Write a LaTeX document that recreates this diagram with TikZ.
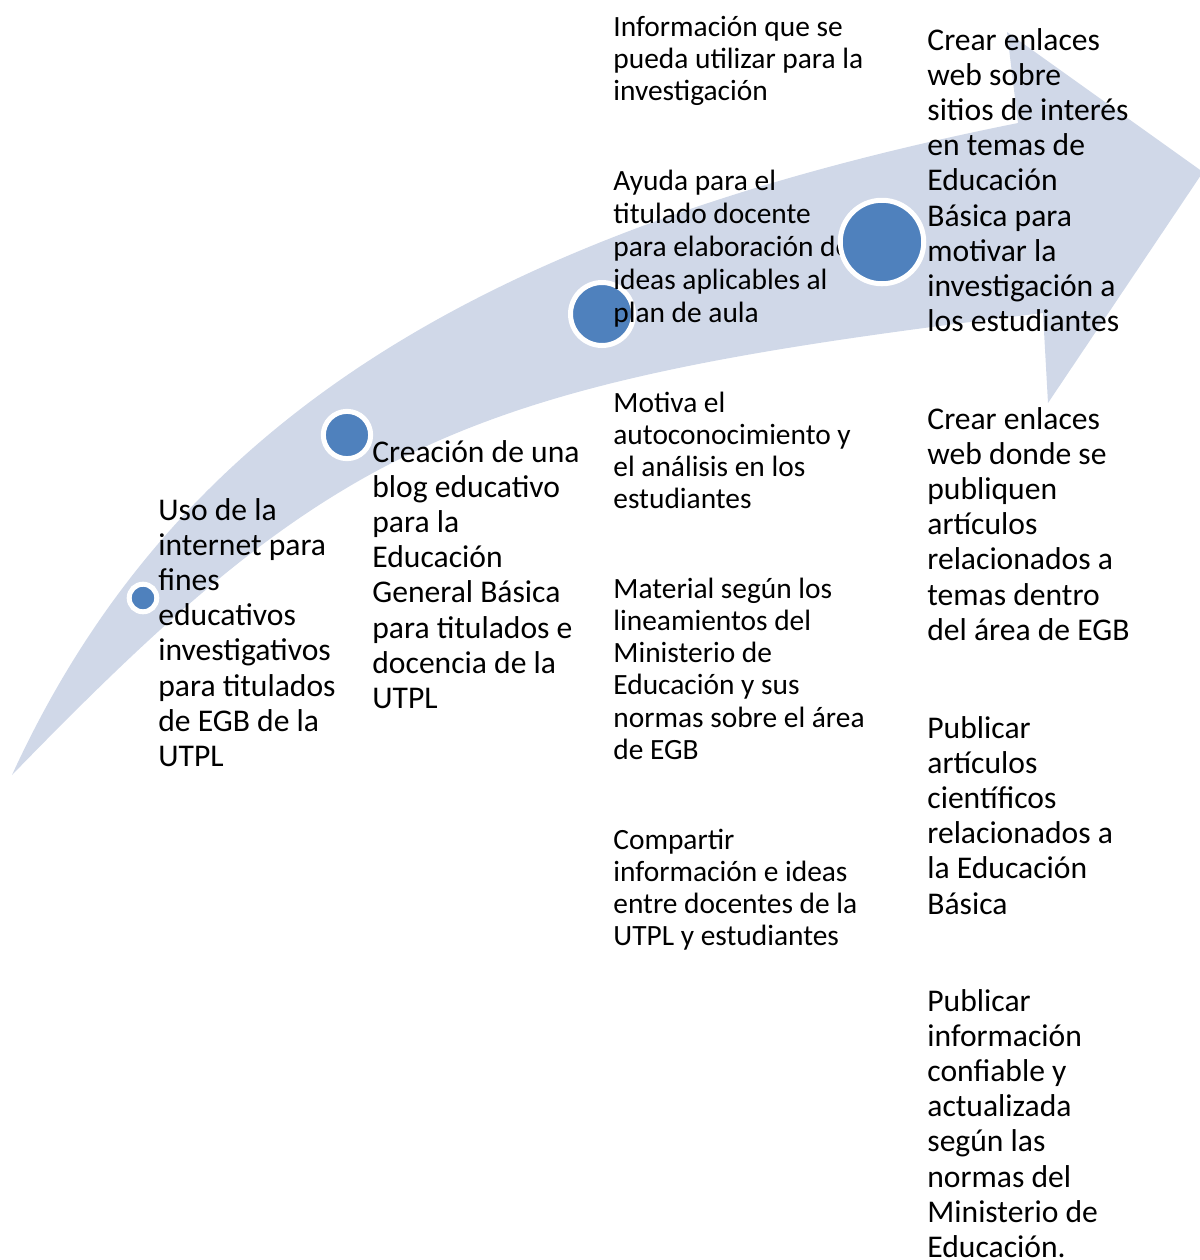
\documentclass[tikz,border=0pt]{standalone}
\usepackage{fontspec}
\setmainfont{Carlito}
\definecolor{bandcol}{HTML}{D0D8E8}
\definecolor{dotblue}{HTML}{4F81BD}
\newcommand\bigtxt{\fontsize{15.8pt}{17.6pt}\selectfont}
\newcommand\smtxt{\fontsize{14.7pt}{16.15pt}\selectfont}
\newcommand\smtxtb{\fontsize{14.7pt}{16.5pt}\selectfont}
\newcommand\blockA[1]{\parbox[t]{200pt}{\raggedright\bigtxt #1}}
\newcommand\blockC[1]{\parbox[t]{200pt}{\raggedright\smtxt #1}}
\newcommand\blockCb[1]{\parbox[t]{200pt}{\raggedright\smtxtb #1}}
\begin{document}
\begin{tikzpicture}[x=0.5pt,y=-0.5pt,
  dot/.style={circle, fill=dotblue, draw=white, line width=2.5pt, inner sep=0pt},
  lbl/.style={anchor=base west, inner sep=0pt, text=black}]
\useasboundingbox (0,0) rectangle (1200,1260);
\clip (0,0) rectangle (1200,1260);
% curved arrow band
\coordinate (tail) at (12,775);
\coordinate (ub) at (1018,123);
\coordinate (lb) at (1043,313);
\fill[bandcol] (tail) .. controls (171,428) and (473,232) .. (ub)
  -- (1007,32) -- (1203,172) -- (1048,403) -- (lb)
  .. controls (461,383) and (340,437) .. (tail)
  -- cycle;
% dots
\node[dot, minimum size=13.8pt] (c1) at (143,598) {};
\node[dot, minimum size=23.65pt] (c2) at (347,435) {};
\node[dot, minimum size=31.5pt] (c3) at (602,314) {};
% texts
\node[lbl] (ta) at (158,520) {\blockA{Uso de la\\internet para\\fines\\educativos\\investigativos\\para titulados\\de EGB de la\\UTPL}};
\node[lbl] (tb) at (372,462) {\blockA{Creación de una\\blog educativo\\para la\\Educación\\General Básica\\para titulados e\\docencia de la\\UTPL}};
\node[lbl] (tc1) at (613,36) {\blockC{Información que se\\pueda utilizar para la\\investigación}};
\node[lbl] (tc2) at (613,190) {\blockCb{Ayuda para el\\titulado docente\\para elaboración de\\ideas aplicables al\\plan de aula}};
\node[lbl] (tc3) at (613,412) {\blockC{Motiva el\\autoconocimiento y\\el análisis en los\\estudiantes}};
\node[lbl] (tc4) at (613,598) {\blockC{Material según los\\lineamientos del\\Ministerio de\\Educación y sus\\normas sobre el área\\de EGB}};
\node[lbl] (tc5) at (613,849) {\blockC{Compartir\\información e ideas\\entre docentes de la\\UTPL y estudiantes}};
\node[lbl] (td1) at (927,50) {\blockA{Crear enlaces\\web sobre\\sitios de interés\\en temas de\\Educación\\Básica para\\motivar la\\investigación a\\los estudiantes}};
\node[lbl] (td2) at (927,429) {\blockA{Crear enlaces\\web donde se\\publiquen\\artículos\\relacionados a\\temas dentro\\del área de EGB}};
\node[lbl] (td3) at (927,738) {\blockA{Publicar\\artículos\\científicos\\relacionados a\\la Educación\\Básica}};
\node[lbl] (td4) at (927,1011) {\blockA{Publicar\\información\\confiable y\\actualizada\\según las\\normas del\\Ministerio de\\Educación.}};
% last dot on top of text
\node[dot, minimum size=41.75pt] (c4) at (882,242) {};
\end{tikzpicture}
\end{document}
